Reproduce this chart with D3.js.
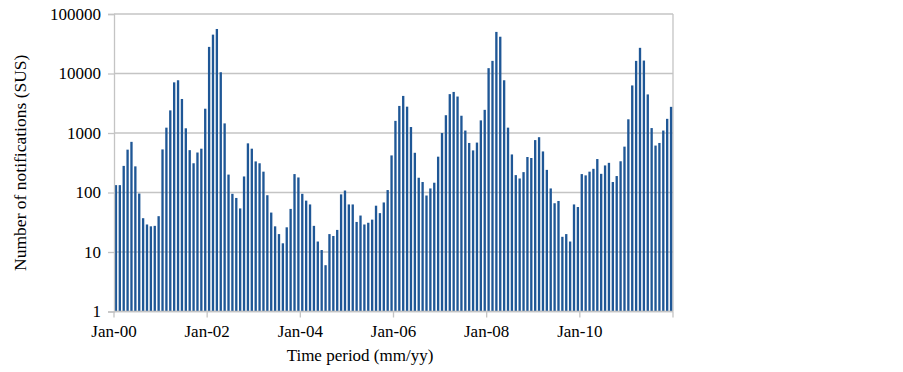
<!DOCTYPE html>
<html>
<head>
<meta charset="utf-8">
<script src="https://cdn.jsdelivr.net/npm/d3@7"></script>
<style>
  body { margin: 0; background: #fff; }
  text { font-family: "Liberation Serif", "Times New Roman", serif; fill: #000; }
</style>
</head>
<body>
<svg id="chart"></svg>
<script>
// monthly notifications, Jan to Dec of each year
const y2000 = [133, 133, 280, 525, 710, 275, 96, 37, 29, 27, 27.5, 40];
const y2001 = [530, 1230, 2400, 7100, 7700, 3730, 1200, 515, 310, 470, 545, 2560];
const y2002 = [28000, 45000, 56000, 10500, 1450, 200, 95, 81, 54, 186, 670, 545];
const y2003 = [333, 310, 224, 90, 46, 27, 20, 14, 26, 53, 204, 179];
const y2004 = [95, 73, 63, 27.5, 15, 10.8, 6, 20, 18.6, 23.5, 93, 108];
const y2005 = [63, 63, 32, 41, 29, 31, 35, 60, 45, 68, 110, 420];
const y2006 = [1600, 2850, 4200, 2770, 1260, 465, 177, 150, 89, 117, 146, 400];
const y2007 = [1000, 1990, 4500, 4900, 4100, 1950, 1100, 680, 510, 690, 1630, 2450];
const y2008 = [12300, 16300, 50000, 41500, 7700, 1230, 436, 196, 172, 220, 395, 380];
const y2009 = [760, 850, 490, 240, 117, 66, 72, 18, 20, 15, 63, 57];
const y2010 = [204, 194, 224, 250, 365, 206, 285, 315, 150, 189, 335, 590];
const y2011 = [1700, 6300, 16300, 27000, 16500, 4450, 1210, 615, 680, 1100, 1730, 2750];

const years = ["00", "01", "02", "03", "04", "05", "06", "07", "08", "09", "10", "11"];
const monthNames = ["Jan", "Feb", "Mar", "Apr", "May", "Jun", "Jul", "Aug", "Sep", "Oct", "Nov", "Dec"];
const tickLabels = ["Jan-00", "Jan-02", "Jan-04", "Jan-06", "Jan-08", "Jan-10"];
const yTicks = [1, 10, 100, 1000, 10000, 100000];

const values = [].concat(y2000, y2001, y2002, y2003, y2004, y2005,
                         y2006, y2007, y2008, y2009, y2010, y2011);
const categories = [];
years.forEach(yy => monthNames.forEach(m => categories.push(`${m}-${yy}`)));
const data = categories.map((c, i) => ({ month: c, value: values[i] }));

const width = 903, height = 372;
const margin = { top: 14, right: 230, bottom: 60.5, left: 114 };
const plotW = width - margin.left - margin.right;
const plotH = height - margin.top - margin.bottom;

const svg = d3.select('#chart')
  .attr('width', width)
  .attr('height', height);

const g = svg.append('g')
  .attr('transform', `translate(${margin.left},${margin.top})`);

const x = d3.scaleBand()
  .domain(categories)
  .range([0, plotW])
  .paddingInner(0.4)
  .paddingOuter(0.2);

const y = d3.scaleLog()
  .domain([1, 100000])
  .range([plotH, 0]);

const gridColor = '#c4c4c4';

// horizontal gridlines
g.selectAll('line.grid')
  .data(yTicks)
  .enter()
  .append('line')
  .attr('class', 'grid')
  .attr('x1', 0)
  .attr('x2', plotW)
  .attr('y1', d => y(d))
  .attr('y2', d => y(d))
  .attr('stroke', gridColor)
  .attr('stroke-width', 1.3);

// right border of plot area
g.append('line')
  .attr('x1', plotW).attr('x2', plotW)
  .attr('y1', 0).attr('y2', plotH)
  .attr('stroke', gridColor)
  .attr('stroke-width', 1.3);

// bars
g.selectAll('rect.bar')
  .data(data)
  .enter()
  .append('rect')
  .attr('class', 'bar')
  .attr('x', d => x(d.month))
  .attr('y', d => y(d.value))
  .attr('width', x.bandwidth())
  .attr('height', d => plotH - y(d.value))
  .attr('fill', '#1f5796');

// y axis
const yAxis = g.append('g')
  .call(d3.axisLeft(y).tickValues(yTicks).tickFormat(d3.format('d')).tickSize(6).tickPadding(7));
yAxis.select('.domain').attr('stroke', gridColor).attr('stroke-width', 1.3);
yAxis.selectAll('.tick line').attr('stroke', gridColor).attr('stroke-width', 1.3);
yAxis.selectAll('.tick text')
  .style('font-family', '"Liberation Serif", "Times New Roman", serif')
  .style('font-size', '17px')
  .attr('fill', '#000');

// x axis: ticks on category boundaries every 24 months
const step = x.step();
const boundary = i => x(categories[0]) - step * 0.2 + i * step;
const xTickIdx = d3.range(0, categories.length + 1, 24);

const xAxis = g.append('g')
  .attr('transform', `translate(0,${plotH})`);
xAxis.append('line')
  .attr('x1', 0).attr('x2', plotW)
  .attr('stroke', gridColor)
  .attr('stroke-width', 1.3);
xAxis.selectAll('line.tick')
  .data(xTickIdx)
  .enter()
  .append('line')
  .attr('class', 'tick')
  .attr('x1', d => boundary(d))
  .attr('x2', d => boundary(d))
  .attr('y1', 0)
  .attr('y2', 6)
  .attr('stroke', gridColor)
  .attr('stroke-width', 1.3);
xAxis.selectAll('text')
  .data(tickLabels)
  .enter()
  .append('text')
  .attr('x', (d, i) => boundary(xTickIdx[i]))
  .attr('y', 25)
  .attr('text-anchor', 'middle')
  .style('font-size', '17px')
  .text(d => d);

// axis titles
svg.append('text')
  .attr('x', 360)
  .attr('y', 361)
  .attr('text-anchor', 'middle')
  .style('font-size', '17px')
  .text('Time period (mm/yy)');

svg.append('text')
  .attr('transform', `translate(26, ${margin.top + plotH / 2}) rotate(-90)`)
  .attr('text-anchor', 'middle')
  .style('font-size', '17.5px')
  .text('Number of notifications (SUS)');
</script>
</body>
</html>
